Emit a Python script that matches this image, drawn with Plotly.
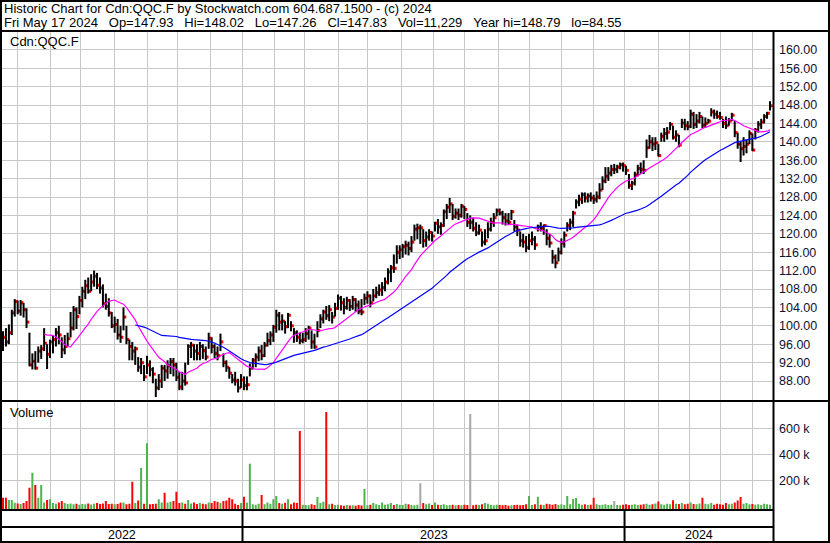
import pandas as pd
import plotly.graph_objects as go

# ---------------- data (one bar per two sessions) ----------------
high = [98.8, 99.5, 100.3, 103.5, 105.8, 105.5, 105.6, 105.0, 103.8, 98.5,
        94.0, 94.5, 95.5, 95.8, 99.5, 96.0, 97.0, 97.8, 99.5, 100.0,
        97.5, 98.0, 98.5, 103.0, 104.3, 104.0, 106.5, 108.5, 110.0, 110.5,
        111.2, 112.0, 111.5, 110.5, 109.0, 107.0, 106.0, 103.0, 102.0, 101.5,
        100.0, 104.0, 100.0, 97.0, 96.5, 95.5, 93.2, 93.0, 91.5, 93.5,
        92.5, 91.0, 88.5, 89.5, 91.5, 91.5, 92.5, 93.0, 93.0, 92.0,
        90.0, 90.0, 92.0, 96.0, 96.5, 96.0, 96.0, 96.5, 96.0, 95.5,
        98.5, 97.5, 96.0, 95.5, 98.3, 94.0, 92.5, 91.0, 89.5, 90.0,
        88.5, 89.5, 89.0, 89.0, 91.8, 93.0, 94.0, 95.5, 95.8, 96.5,
        98.5, 98.8, 100.2, 103.5, 103.0, 102.5, 101.0, 102.8, 101.0, 99.5,
        99.0, 98.5, 98.5, 99.5, 100.0, 99.0, 98.3, 101.0, 102.5, 103.5,
        104.3, 104.5, 103.0, 105.0, 106.8, 106.5, 106.0, 106.3, 105.8, 106.5,
        106.0, 105.5, 105.8, 107.0, 107.5, 106.8, 108.0, 108.5, 109.0, 109.5,
        110.5, 112.5, 113.2, 115.5, 117.5, 117.5, 117.8, 118.5, 118.3, 119.5,
        122.0, 122.2, 122.0, 121.0, 120.5, 121.0, 120.5, 122.6, 123.2, 122.5,
        125.3, 126.5, 127.8, 126.5, 125.5, 125.5, 126.5, 126.0, 124.5, 124.0,
        123.5, 122.5, 122.0, 120.5, 121.0, 122.5, 123.5, 124.5, 125.5, 125.5,
        125.0, 124.5, 124.5, 125.2, 123.0, 122.0, 120.5, 120.0, 119.5, 120.0,
        120.5, 119.5, 122.0, 122.5, 122.0, 121.0, 120.0, 116.5, 115.5, 117.0,
        119.0, 120.5, 122.5, 123.3, 125.0, 127.5, 128.5, 129.0, 129.0, 128.8,
        129.0, 128.5, 129.2, 131.0, 132.5, 134.5, 134.5, 135.0, 135.2, 135.0,
        135.5, 135.5, 134.8, 133.0, 131.5, 133.5, 135.0, 135.5, 136.0, 140.5,
        141.5, 141.0, 141.0, 139.5, 142.0, 143.0, 143.2, 144.3, 143.5, 142.5,
        141.5, 145.0, 145.0, 144.5, 147.0, 146.5, 146.0, 146.5, 145.5, 145.3,
        145.0, 147.3, 147.0, 146.8, 146.5, 145.0, 145.5, 145.2, 146.3, 144.5,
        142.0, 140.0, 141.0, 140.5, 142.5, 141.8, 143.0, 144.5, 145.0, 146.0,
        146.5, 148.79]

low = [94.5, 95.5, 96.0, 98.0, 102.0, 102.5, 102.2, 101.8, 99.5, 91.2,
       90.5, 90.5, 92.0, 92.8, 94.5, 90.6, 93.0, 94.0, 95.5, 96.0,
       93.0, 93.8, 95.5, 97.5, 99.0, 99.3, 102.5, 104.0, 105.8, 107.0,
       107.5, 108.5, 108.0, 107.0, 104.0, 103.5, 102.0, 99.5, 98.5, 97.0,
       96.3, 99.0, 96.0, 92.5, 92.5, 91.5, 90.0, 89.5, 88.0, 89.5,
       89.0, 87.5, 84.5, 86.0, 86.5, 88.0, 88.5, 89.5, 89.0, 88.0,
       86.0, 86.0, 87.0, 91.5, 93.0, 92.5, 92.5, 92.5, 92.8, 92.5,
       95.0, 94.0, 93.0, 92.5, 94.5, 91.0, 90.0, 88.5, 87.5, 87.0,
       85.5, 86.5, 86.0, 86.0, 89.0, 90.5, 91.0, 92.3, 92.5, 93.2,
       95.5, 95.8, 96.5, 98.5, 99.0, 99.0, 98.3, 99.5, 98.8, 96.3,
       96.5, 96.0, 96.2, 96.5, 97.0, 95.0, 95.0, 97.5, 99.5, 100.5,
       101.3, 101.0, 100.5, 102.0, 103.5, 103.3, 102.5, 103.5, 103.2, 103.5,
       103.0, 102.5, 102.3, 104.5, 104.8, 104.0, 105.3, 106.0, 106.5, 106.5,
       107.5, 109.0, 109.5, 111.5, 113.5, 114.5, 114.8, 115.5, 115.3, 116.0,
       118.5, 118.8, 117.8, 117.0, 117.2, 118.5, 118.3, 120.5, 120.0, 119.8,
       121.5, 123.2, 124.5, 123.0, 123.3, 123.0, 123.5, 123.2, 121.5, 121.0,
       120.5, 119.5, 119.8, 117.2, 117.5, 119.0, 120.5, 121.5, 123.8, 124.0,
       122.0, 121.8, 122.0, 123.0, 120.5, 119.5, 117.2, 117.0, 116.0, 116.5,
       117.5, 116.5, 120.5, 120.5, 119.8, 117.5, 117.0, 113.5, 112.5, 114.0,
       115.5, 117.0, 120.5, 120.8, 121.5, 125.5, 126.0, 126.5, 126.8, 126.8,
       127.0, 126.5, 126.8, 127.5, 129.5, 131.0, 131.5, 132.5, 133.0, 133.2,
       134.0, 133.5, 132.8, 129.8, 129.5, 130.5, 132.5, 133.0, 133.0, 136.5,
       138.5, 138.0, 138.2, 136.8, 140.0, 140.0, 140.5, 142.5, 140.5, 140.0,
       138.8, 143.0, 142.5, 142.5, 143.0, 142.8, 143.0, 144.0, 143.0, 143.0,
       144.0, 145.5, 145.0, 145.0, 144.8, 143.0, 142.8, 143.5, 144.5, 141.0,
       138.5, 135.6, 137.0, 137.5, 139.5, 138.0, 140.5, 142.0, 142.8, 144.0,
       145.0, 146.8]

close = [97.5, 96.5, 98.5, 102.8, 105.3, 103.2, 105.0, 103.5, 100.8, 91.5,
         92.3, 90.8, 94.5, 95.0, 96.2, 93.8, 96.5, 97.0, 98.5, 98.0,
         94.8, 95.5, 97.2, 99.5, 103.5, 102.0, 105.5, 107.5, 108.7, 107.5,
         109.5, 110.8, 108.8, 108.2, 104.8, 104.2, 102.8, 100.0, 100.3, 98.0,
         97.5, 101.9, 97.0, 95.5, 94.5, 95.0, 91.0, 92.0, 88.9, 91.5,
         90.5, 89.5, 86.5, 88.0, 90.8, 90.2, 91.3, 92.2, 91.5, 88.8,
         86.7, 88.0, 87.6, 95.5, 95.8, 94.5, 94.0, 95.5, 94.6, 93.2,
         97.3, 95.5, 94.0, 93.5, 96.5, 92.0, 91.0, 89.7, 88.2, 88.0,
         86.5, 88.2, 87.0, 87.2, 90.8, 92.5, 93.2, 94.5, 93.5, 95.8,
         96.8, 98.0, 99.7, 102.3, 100.8, 101.0, 99.8, 102.3, 100.0, 98.5,
         97.5, 96.8, 97.0, 98.3, 99.5, 96.5, 95.4, 99.0, 101.5, 103.0,
         102.2, 103.5, 101.9, 103.8, 106.0, 105.0, 104.0, 105.5, 104.2, 105.7,
         104.5, 103.2, 103.0, 106.0, 106.5, 105.0, 106.5, 107.2, 107.8, 108.3,
         109.5, 111.7, 112.6, 112.5, 116.0, 116.5, 117.2, 117.5, 116.8, 118.2,
         121.0, 121.3, 121.3, 118.5, 119.3, 120.3, 119.5, 122.3, 121.5, 121.8,
         124.8, 125.8, 126.5, 123.8, 124.5, 124.0, 126.0, 125.3, 122.5, 122.5,
         121.2, 120.2, 120.8, 118.2, 118.5, 121.0, 122.5, 123.5, 125.0, 124.5,
         123.5, 122.8, 122.5, 124.8, 121.5, 120.8, 118.5, 118.2, 117.0, 118.5,
         118.8, 117.6, 121.5, 121.2, 121.8, 119.0, 118.0, 114.9, 113.7, 116.0,
         118.0, 119.7, 121.8, 122.5, 124.5, 126.9, 127.5, 128.5, 127.8, 128.2,
         127.8, 127.5, 128.0, 129.5, 131.5, 132.5, 133.2, 134.0, 134.0, 134.5,
         135.0, 134.8, 133.8, 130.5, 131.0, 132.8, 134.2, 134.0, 133.8, 138.7,
         140.0, 139.5, 139.8, 137.0, 141.2, 141.8, 142.1, 143.8, 141.0, 141.5,
         139.3, 144.1, 143.5, 143.3, 146.0, 143.8, 144.5, 145.5, 143.6, 144.0,
         144.5, 146.5, 146.0, 145.5, 145.3, 144.0, 143.5, 144.5, 145.8, 142.0,
         139.5, 138.5, 139.0, 139.5, 141.8, 138.2, 142.5, 143.8, 144.3, 145.5,
         146.2, 147.83]

volume_k = [66, 66, 48, 48, 28, 22, 18, 25, 40, 143,
            258, 164, 66, 164, 30, 48, 55, 25, 20, 30,
            40, 25, 18, 22, 15, 20, 12, 18, 15, 22,
            14, 20, 25, 18, 22, 40, 18, 20, 15, 18,
            28, 30, 15, 20, 189, 25, 45, 295, 20, 484,
            15, 18, 20, 55, 30, 105, 30, 35, 40, 112,
            25, 30, 20, 48, 22, 30, 18, 25, 20, 15,
            30, 25, 40, 35, 28, 40, 45, 66, 55, 20,
            10, 25, 74, 30, 328, 15, 12, 20, 87, 15,
            30, 20, 55, 79, 25, 20, 28, 55, 15, 30,
            25, 579, 12, 10, 8, 15, 10, 71, 25, 35,
            725, 15, 20, 10, 12, 8, 5, 10, 6, 8,
            5, 10, 6, 133, 8, 12, 25, 15, 10, 30,
            12, 15, 25, 10, 18, 12, 10, 20, 15, 10,
            8, 12, 177, 25, 15, 22, 10, 30, 12, 10,
            15, 8, 10, 12, 8, 10, 8, 12, 10, 710,
            8, 12, 10, 15, 25, 20, 10, 8, 12, 10,
            8, 10, 5, 8, 10, 12, 8, 10, 15, 79,
            10, 15, 74, 12, 10, 20, 15, 12, 18, 10,
            15, 10, 79, 15, 56, 63, 20, 12, 15, 10,
            12, 66, 15, 10, 12, 15, 10, 12, 41, 10,
            8, 12, 15, 10, 12, 15, 10, 12, 15, 20,
            12, 15, 22, 36, 15, 12, 20, 15, 46, 20,
            18, 25, 15, 20, 30, 18, 15, 22, 66, 20,
            15, 25, 12, 20, 15, 12, 25, 15, 20, 30,
            45, 71, 20, 25, 15, 18, 12, 15, 10, 20,
            15, 11.229]

price_ticks = [88, 92, 96, 100, 104, 108, 112, 116, 120, 124, 128, 132,
               136, 140, 144, 148, 152, 156, 160]
volume_ticks = [200, 400, 600]
volume_tick_text = ["200 k", "400 k", "600 k"]
year_labels = ["2022", "2023", "2024"]

title_line1 = "Historic Chart for Cdn:QQC.F by Stockwatch.com 604.687.1500 - (c) 2024"
title_line2 = ("Fri May 17 2024\u00a0\u00a0\u00a0Op=147.93\u00a0\u00a0\u00a0Hi=148.02"
               "\u00a0\u00a0\u00a0Lo=147.26\u00a0\u00a0\u00a0Cl=147.83\u00a0\u00a0\u00a0Vol=11,229"
               "\u00a0\u00a0\u00a0Year hi=148.79\u00a0\u00a0\u00a0lo=84.55")

# ---------------- derived ----------------
W, H = 830, 543
all_days = pd.bdate_range("2022-05-18", "2024-05-17")
n = len(close)
xs = list(range(n))

month_pos = [k / 2 for k in range(1, len(all_days))
             if all_days[k].month != all_days[k - 1].month]
year_pos = [k / 2 for k in range(1, len(all_days))
            if all_days[k].year != all_days[k - 1].year]

ma_short = pd.Series(close).rolling(15).mean()
ma_long = pd.Series(close).rolling(46).mean()

bx, by = [], []
for i in xs:
    bx += [i, i, None]
    by += [low[i], high[i], None]

vol_min, vol_max = -24.6, 802
groups = {"#ff0000": ([], []), "#4db34d": ([], []), "#a6a6a6": ([], [])}
for i in xs:
    if i == 0 or close[i] < close[i - 1]:
        c = "#ff0000"
    elif close[i] > close[i - 1]:
        c = "#4db34d"
    else:
        c = "#a6a6a6"
    gx, gy = groups[c]
    gx += [i, i, None]
    gy += [vol_min, volume_k[i], None]

x_range = [-0.34, 262.02]

def px(x):
    return x / W

def py(y):
    return 1 - y / H

fig = go.Figure()
fig.add_trace(go.Scatter(x=[i + 0.45 for i in xs], y=close, mode="markers",
                         marker=dict(symbol="square", size=3, color="#ff0000",
                                     line=dict(width=0)),
                         hoverinfo="skip"))
fig.add_trace(go.Scatter(x=bx, y=by, mode="lines",
                         line=dict(color="black", width=2), hoverinfo="skip"))
fig.add_trace(go.Scatter(x=xs, y=ma_short, mode="lines",
                         line=dict(color="#ff00ff", width=1.2)))
fig.add_trace(go.Scatter(x=xs, y=ma_long, mode="lines",
                         line=dict(color="#0000ff", width=1.2)))
for c, (gx, gy) in groups.items():
    fig.add_trace(go.Scatter(x=gx, y=gy, mode="lines", xaxis="x2", yaxis="y2",
                             line=dict(color=c, width=2), hoverinfo="skip"))

grid = "#c8c8c8"
tfont = dict(family="Liberation Sans, Arial, sans-serif", size=12.5, color="#101030")
xcommon = dict(domain=[px(2), px(773)], range=x_range, tickvals=month_pos,
               showticklabels=False, ticks="", showgrid=True, gridcolor=grid,
               gridwidth=1, zeroline=False, showline=False, fixedrange=True)
fig.update_layout(
    width=W, height=H, margin=dict(l=0, r=0, t=0, b=0),
    paper_bgcolor="white", plot_bgcolor="white", showlegend=False,
    xaxis=dict(anchor="y", **xcommon),
    xaxis2=dict(anchor="y2", matches="x", **xcommon),
    yaxis=dict(domain=[py(400), py(32)], range=[83.87, 163.87], side="right",
               anchor="x", tickvals=price_ticks,
               ticktext=["%.2f" % v for v in price_ticks], tickfont=tfont,
               ticks="", ticklabelstandoff=5, showgrid=True, gridcolor=grid,
               zeroline=False),
    yaxis2=dict(domain=[py(509.5), py(402)], range=[vol_min, vol_max], side="right",
                anchor="x2", tickvals=volume_ticks, ticktext=volume_tick_text,
                tickfont=tfont, ticks="", ticklabelstandoff=5, showgrid=True,
                gridcolor=grid, zeroline=False),
)

font = dict(family="Liberation Sans, Arial, sans-serif", size=13, color="black")
ann = [
    dict(text=title_line1, x=px(2), y=py(8.5)),
    dict(text=title_line2, x=px(2), y=py(22.5)),
    dict(text="Cdn:QQC.F", x=px(8), y=py(41.5)),
    dict(text="Volume", x=px(8), y=py(413)),
]
for a in ann:
    fig.add_annotation(xref="paper", yref="paper", xanchor="left", yanchor="middle",
                       showarrow=False, font=font, **a)

edges = [x_range[0]] + year_pos + [x_range[1]]
for k, lab in enumerate(year_labels):
    fig.add_annotation(xref="x", yref="paper", x=(edges[k] + edges[k + 1]) / 2,
                       y=py(534.5), text=lab, showarrow=False, xanchor="center",
                       yanchor="middle", font=dict(font, size=12.5))

line = dict(color="black", width=2)
shapes = [
    dict(type="rect", x0=px(1), x1=px(829), y0=py(1), y1=py(542)),
    dict(type="line", x0=0, x1=1, y0=py(31), y1=py(31)),
    dict(type="line", x0=0, x1=1, y0=py(401), y1=py(401)),
    dict(type="line", x0=px(773.5), x1=px(773.5), y0=py(31), y1=py(542)),
    dict(type="line", x0=0, x1=px(773.5), y0=py(510), y1=py(510)),
    dict(type="line", x0=0, x1=px(773.5), y0=py(527), y1=py(527)),
]
for s in shapes:
    fig.add_shape(xref="paper", yref="paper", line=line, **s)
for p in year_pos:
    fig.add_shape(type="line", xref="x", yref="paper", x0=p, x1=p,
                  y0=py(510), y1=py(542), line=line)

fig.write_html("out.html", config={"displayModeBar": False},
               post_script="document.body.style.margin='0';"
                           "document.body.style.overflow='hidden';")
